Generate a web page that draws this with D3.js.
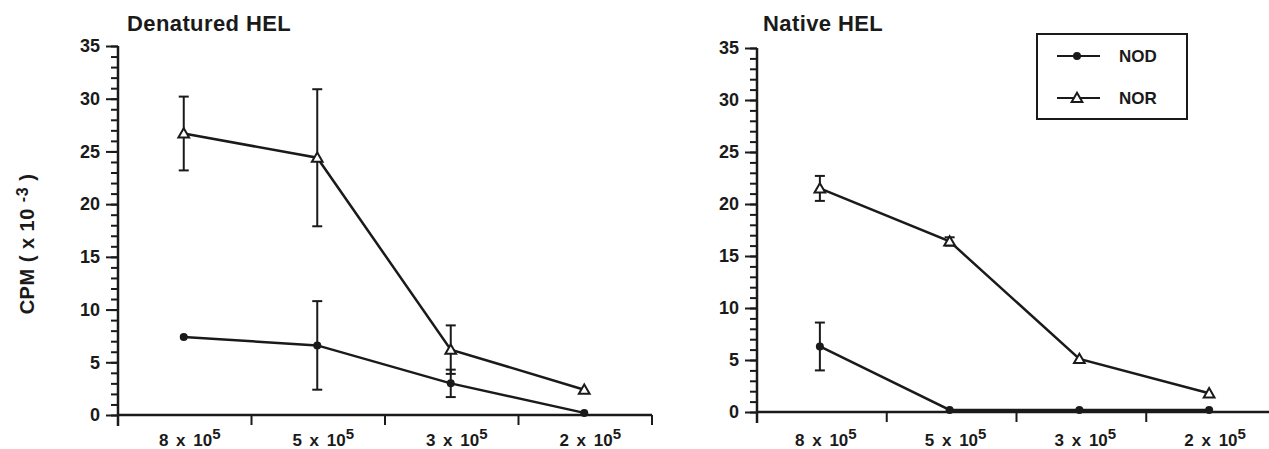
<!DOCTYPE html>
<html>
<head>
<meta charset="utf-8">
<script src="https://cdn.jsdelivr.net/npm/d3@7"></script>
<style>
  body { margin: 0; background: #fff; }
  svg { display: block; }
  text { font-family: Arial, "Liberation Sans", sans-serif; font-weight: bold; fill: #1a1a1a; }
</style>
</head>
<body>
<div id="canvas"></div>
<script>
// cell numbers per well (x 10^5)
var categories = ["8", "5", "3", "2"];
var seriesNames = ["NOD", "NOR"];

// Denatured HEL, CPM x 10^-3
var denaturedNOD = [7.4, 6.6, 3.0, 0.2];
var denaturedNODErr = [0, 4.2, 1.3, 0];
var denaturedNOR = [26.7, 24.4, 6.2, 2.4];
var denaturedNORErr = [3.5, 6.5, 2.3, 0];

// Native HEL
var nativeNOD = [6.3, 0.2, 0.2, 0.2];
var nativeNODErr = [2.3, 0, 0, 0];
var nativeNOR = [21.5, 16.4, 5.1, 1.8];
var nativeNORErr = [1.2, 0.4, 0, 0];

var yTicks = [0, 5, 10, 15, 20, 25, 30, 35];

var ink = "#1a1a1a";

var svg = d3.select("#canvas").append("svg")
    .attr("width", 1269)
    .attr("height", 449);

// y axis title
svg.append("text")
    .attr("transform", "translate(34,244) rotate(-90)")
    .attr("text-anchor", "middle")
    .style("font-size", "20px")
    .style("letter-spacing", "0.5px")
    .call(function(t){
      t.append("tspan").text("CPM ( x 10 ");
      t.append("tspan").attr("dy", -6).style("font-size", "16px").text("-3");
      t.append("tspan").attr("dy", 6).text(" )");
    });

function drawPanel(opts){
  var x = d3.scaleBand().domain(categories).range([opts.x0, opts.x1]);
  var y = d3.scaleLinear().domain([0, 35]).range([opts.y0, opts.y1]);
  var cx = function(i){ return x(categories[i]) + x.bandwidth() / 2 + opts.shift; };

  var g = svg.append("g");

  // title
  g.append("text")
      .attr("x", opts.titleX)
      .attr("y", 31)
      .style("font-size", "22px")
      .style("letter-spacing", "0.4px")
      .text(opts.title);

  // minor ticks
  g.append("g")
      .attr("transform", "translate(" + opts.x0 + ",0)")
      .call(d3.axisLeft(y).tickValues(d3.range(0, 36, 1)).tickSize(7).tickFormat(""))
      .call(function(a){ a.select(".domain").remove(); });

  // major ticks
  var yAxis = g.append("g")
      .attr("transform", "translate(" + opts.x0 + ",0)")
      .call(d3.axisLeft(y).tickValues(yTicks).tickSize(12).tickPadding(6));
  yAxis.select(".domain").remove();
  yAxis.selectAll("text")
      .style("font-size", "18px")
      .style("font-family", "Arial, 'Liberation Sans', sans-serif")
      .attr("fill", ink);

  g.selectAll(".tick line").attr("stroke", ink).attr("stroke-width", 2);

  // y axis line, runs a bit below zero
  g.append("line")
      .attr("x1", opts.x0).attr("x2", opts.x0)
      .attr("y1", y(35)).attr("y2", y(0) + 11)
      .attr("stroke", ink).attr("stroke-width", 2.5);

  // x axis line
  g.append("line")
      .attr("x1", opts.x0).attr("x2", opts.x1)
      .attr("y1", y(0)).attr("y2", y(0))
      .attr("stroke", ink).attr("stroke-width", 2.5);

  // separators between categories
  g.selectAll(".sep")
      .data(categories.slice(1).concat(["end"]))
      .enter().append("line")
      .attr("x1", function(d, i){ return opts.x0 + x.bandwidth() * (i + 1); })
      .attr("x2", function(d, i){ return opts.x0 + x.bandwidth() * (i + 1); })
      .attr("y1", y(0))
      .attr("y2", y(0) + 10)
      .attr("stroke", ink).attr("stroke-width", 2);

  // category labels
  g.selectAll(".xlab")
      .data(categories)
      .enter().append("text")
      .attr("x", function(d, i){ return cx(i) + 6; })
      .attr("y", 446)
      .attr("text-anchor", "middle")
      .style("font-size", "17px")
      .style("word-spacing", "3px")
      .each(function(d){
        var t = d3.select(this);
        t.append("tspan").text(d + " x 10");
        t.append("tspan").attr("dy", -7).style("font-size", "15px").text("5");
      });

  var line = d3.line()
      .x(function(d, i){ return cx(i); })
      .y(function(d){ return y(d); });

  opts.series.forEach(function(s){
    g.append("path")
        .datum(s.values)
        .attr("d", line)
        .attr("fill", "none")
        .attr("stroke", ink)
        .attr("stroke-width", 2.5);

    // error bars
    s.values.forEach(function(v, i){
      var e = s.err[i];
      if (!e) return;
      var px = cx(i);
      g.append("line")
          .attr("x1", px).attr("x2", px)
          .attr("y1", y(v - e)).attr("y2", y(v + e))
          .attr("stroke", ink).attr("stroke-width", 2);
      [v - e, v + e].forEach(function(c){
        g.append("line")
            .attr("x1", px - 5).attr("x2", px + 5)
            .attr("y1", y(c)).attr("y2", y(c))
            .attr("stroke", ink).attr("stroke-width", 2);
      });
    });

    s.values.forEach(function(v, i){
      drawMarker(g, s.name, cx(i), y(v));
    });
  });
}

function drawMarker(g, name, px, py){
  if (name === "NOD") {
    g.append("circle")
        .attr("cx", px).attr("cy", py).attr("r", 4)
        .attr("fill", ink);
  } else {
    g.append("path")
        .attr("d", d3.symbol().type(d3.symbolTriangle).size(50)())
        .attr("transform", "translate(" + px + "," + (py + 1) + ")")
        .attr("fill", "#fff")
        .attr("stroke", ink)
        .attr("stroke-width", 2);
  }
}

drawPanel({
  title: "Denatured HEL", titleX: 127,
  x0: 118, x1: 652, y0: 415, y1: 46, shift: -1,
  series: [
    { name: "NOD", values: denaturedNOD, err: denaturedNODErr },
    { name: "NOR", values: denaturedNOR, err: denaturedNORErr }
  ]
});

drawPanel({
  title: "Native HEL", titleX: 763,
  x0: 757, x1: 1276, y0: 412, y1: 48, shift: -2,
  series: [
    { name: "NOD", values: nativeNOD, err: nativeNODErr },
    { name: "NOR", values: nativeNOR, err: nativeNORErr }
  ]
});

// legend
var legend = svg.append("g");
legend.append("rect")
    .attr("x", 1037).attr("y", 34)
    .attr("width", 150).attr("height", 85)
    .attr("fill", "#fff")
    .attr("stroke", ink).attr("stroke-width", 2);

seriesNames.forEach(function(name, i){
  var ly = 56 + i * 42;
  legend.append("line")
      .attr("x1", 1057).attr("x2", 1100)
      .attr("y1", ly).attr("y2", ly)
      .attr("stroke", ink).attr("stroke-width", 2);
  drawMarker(legend, name, 1077, ly);
  legend.append("text")
      .attr("x", 1119).attr("y", ly + 6)
      .style("font-size", "17px")
      .text(name);
});
</script>
</body>
</html>
